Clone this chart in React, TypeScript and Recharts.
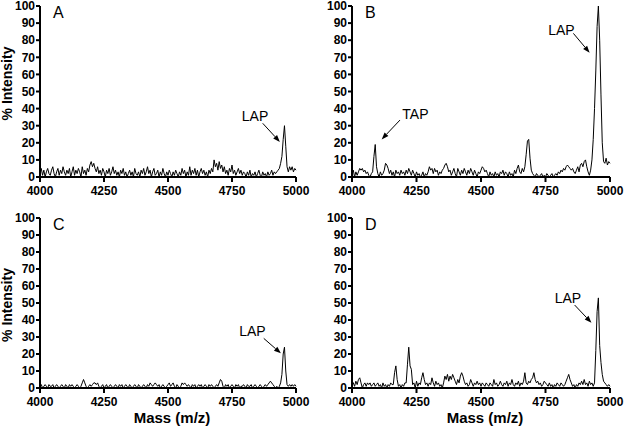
import { Label, Line, LineChart, ReferenceDot, ReferenceLine, XAxis, YAxis } from "recharts";

// spectra sampled every 5 m/z from 4000 to 5000 (201 points per panel)
const MASS_START = 4000;
const MASS_STEP = 5;
const MASS_TICKS = [4000, 4250, 4500, 4750, 5000];
const INTENSITY_TICKS = [0, 10, 20, 30, 40, 50, 60, 70, 80, 90, 100];

const spectrumA = [
  2, 5, 1, 4, 0, 3, 5, 2, 1, 4, 6, 2, 0, 3, 5, 1, 4, 2, 6, 3,
  1, 4, 2, 5, 0, 3, 6, 1, 4, 2, 5, 3, 0, 6, 2, 4, 1, 5, 3, 7,
  9, 6, 8, 5, 3, 6, 2, 4, 1, 5, 3, 0, 4, 2, 5, 1, 3, 6, 2, 4,
  1, 3, 0, 4, 2, 5, 1, 3, 0, 2, 4, 1, 3, 0, 5, 2, 1, 3, 0, 4,
  2, 5, 1, 3, 6, 2, 4, 0, 3, 5, 1, 2, 4, 0, 3, 1, 5, 2, 0, 3,
  1, 4, 2, 0, 3, 1, 4, 2, 0, 3, 1, 5, 2, 4, 0, 3, 1, 6, 1, 4,
  2, 5, 1, 4, 0, 3, 5, 2, 4, 1, 3, 0, 4, 2, 5, 3, 10, 6, 8, 4,
  9, 5, 7, 3, 6, 2, 4, 1, 5, 3, 7, 2, 4, 1, 3, 5, 2, 4, 1, 3,
  2, 0, 3, 1, 4, 0, 2, 1, 3, 0, 2, 4, 1, 0, 3, 1, 2, 0, 3, 1,
  2, 4, 1, 3, 2, 3, 4, 5, 8, 12, 22, 30, 18, 6, 3, 6, 4, 6, 3, 5, 4,
];

const spectrumB = [
  2, 4, 0, 3, 1, 3, 5, 4, 5, 3, 4, 2, 3, 1, 0, 2, 3, 12, 19, 6,
  2, 0, 3, 1, 2, 4, 8, 7, 5, 2, 4, 1, 3, 0, 4, 2, 3, 1, 4, 2,
  3, 1, 4, 2, 5, 3, 1, 4, 2, 0, 3, 1, 2, 0, 1, 3, 0, 2, 1, 3,
  6, 4, 5, 2, 5, 3, 4, 1, 3, 2, 4, 5, 7, 8, 6, 3, 4, 1, 3, 5,
  2, 0, 5, 3, 1, 4, 2, 5, 3, 1, 4, 2, 5, 3, 1, 4, 2, 0, 3, 2,
  4, 6, 5, 3, 4, 2, 0, 3, 1, 2, 0, 3, 1, 2, 0, 3, 2, 4, 1, 3,
  2, 0, 3, 1, 2, 0, 4, 2, 5, 7, 3, 2, 5, 3, 6, 13, 21, 22, 11, 4,
  2, 1, 0, 2, 1, 0, 1, 2, 0, 1, 0, 2, 1, 0, 1, 2, 0, 1, 2, 1,
  3, 2, 4, 3, 5, 4, 6, 7, 6, 5, 4, 5, 3, 2, 4, 6, 3, 7, 8, 6,
  9, 10, 6, 3, 1, 4, 10, 22, 40, 62, 88, 100, 80, 48, 20, 9, 8, 11, 7, 9, 8,
];

const spectrumC = [
  1, 2, 0, 1, 2, 1, 0, 2, 1, 1, 2, 0, 1, 2, 1, 0, 1, 2, 1, 0,
  2, 1, 0, 2, 1, 2, 1, 0, 1, 2, 1, 0, 1, 3, 5, 3, 1, 0, 1, 2,
  1, 2, 3, 3, 2, 3, 1, 0, 1, 2, 0, 1, 2, 0, 1, 2, 1, 0, 1, 2,
  1, 0, 2, 1, 2, 0, 1, 2, 1, 0, 2, 1, 0, 1, 2, 1, 0, 2, 1, 0,
  1, 2, 1, 0, 2, 1, 3, 2, 1, 2, 3, 2, 1, 2, 0, 1, 2, 1, 0, 1,
  2, 3, 1, 2, 3, 1, 0, 2, 1, 0, 1, 3, 2, 3, 2, 1, 2, 1, 0, 2,
  1, 2, 0, 1, 2, 1, 2, 0, 1, 2, 1, 0, 2, 1, 2, 1, 0, 1, 2, 1,
  3, 5, 4, 1, 0, 2, 1, 2, 0, 1, 2, 1, 0, 2, 1, 2, 0, 1, 1, 2,
  1, 0, 2, 1, 1, 2, 0, 1, 2, 1, 0, 1, 2, 1, 0, 1, 2, 1, 2, 3,
  4, 3, 2, 1, 0, 1, 0, 1, 3, 8, 20, 24, 10, 2, 1, 2, 1, 2, 1, 2, 1,
];

const spectrumD = [
  4, 3, 1, 4, 2, 5, 6, 3, 0, 2, 3, 1, 3, 2, 3, 1, 2, 3, 1, 2,
  3, 1, 2, 0, 3, 1, 2, 0, 2, 1, 3, 2, 2, 9, 13, 5, 1, 2, 0, 2,
  1, 3, 3, 14, 24, 13, 11, 2, 3, 0, 4, 1, 3, 2, 6, 9, 5, 2, 3, 1,
  3, 2, 6, 3, 1, 4, 2, 3, 1, 2, 0, 3, 7, 5, 8, 4, 7, 5, 8, 6,
  4, 2, 5, 3, 7, 9, 7, 4, 2, 3, 1, 2, 5, 3, 1, 3, 2, 4, 2, 3,
  1, 3, 2, 1, 3, 2, 1, 3, 2, 1, 5, 2, 3, 1, 2, 4, 2, 1, 3, 2,
  4, 1, 3, 2, 5, 2, 1, 3, 2, 4, 1, 3, 2, 4, 9, 3, 2, 4, 3, 5,
  6, 9, 5, 3, 4, 2, 3, 1, 2, 4, 3, 2, 1, 3, 1, 2, 0, 2, 1, 3,
  2, 1, 3, 2, 1, 2, 4, 6, 8, 5, 3, 1, 2, 0, 2, 1, 3, 2, 4, 2,
  5, 2, 3, 1, 4, 2, 3, 1, 3, 22, 45, 53, 25, 15, 8, 4, 3, 2, 1, 2, 1,
];

// peak labels, in data units: text centre, then arrow tail -> arrow tip
type Note = { text: string; tx: number; ty: number; x1: number; y1: number; x2: number; y2: number };
const notesA: Note[] = [{ text: "LAP", tx: 4840, ty: 35.8, x1: 4870, y1: 31.4, x2: 4937, y2: 20.5 }];
const notesB: Note[] = [
  { text: "TAP", tx: 4246, ty: 36.8, x1: 4186, y1: 33.3, x2: 4115, y2: 22 },
  { text: "LAP", tx: 4812, ty: 86, x1: 4858, y1: 84, x2: 4921, y2: 72.7 },
];
const notesC: Note[] = [{ text: "LAP", tx: 4830, ty: 33.5, x1: 4874, y1: 29.2, x2: 4941, y2: 20.4 }];
const notesD: Note[] = [{ text: "LAP", tx: 4837, ty: 53, x1: 4863, y1: 48.8, x2: 4928, y2: 38.4 }];

const FONT = "'Liberation Sans', Arial, Helvetica, sans-serif";

function toRows(values: number[]) {
  return values.map((v, i) => ({ mass: MASS_START + i * MASS_STEP, v }));
}

const Arrow = (props: any) => {
  const { x1, y1, x2, y2 } = props;
  const a = Math.atan2(y2 - y1, x2 - x1);
  const len = 7;
  const half = 2.6;
  const bx = x2 - len * Math.cos(a);
  const by = y2 - len * Math.sin(a);
  const px = -Math.sin(a) * half;
  const py = Math.cos(a) * half;
  return (
    <g>
      <line x1={x1} y1={y1} x2={bx} y2={by} stroke="#000" strokeWidth={1} />
      <polygon points={`${x2},${y2} ${bx + px},${by + py} ${bx - px},${by - py}`} fill="#000" />
    </g>
  );
};

function Panel({
  values,
  notes,
  letter,
  left,
  top,
  height,
  marginTop,
  marginRight,
  xAxisHeight,
  yLabel,
  xLabel,
  yLabelShift,
}: {
  values: number[];
  notes: Note[];
  letter: string;
  left: number;
  top: number;
  height: number;
  marginTop: number;
  marginRight: number;
  xAxisHeight: number;
  yLabel: boolean;
  xLabel: boolean;
  yLabelShift: number;
}) {
  const rows = toRows(values);
  return (
    <div style={{ position: "absolute", left, top, width: 312, height }}>
      <LineChart width={312} height={height} data={rows} margin={{ top: marginTop, right: marginRight, bottom: 0, left: 0 }}>
        <XAxis
          type="number"
          dataKey="mass"
          domain={[4000, 5000]}
          ticks={MASS_TICKS}
          height={xAxisHeight}
          tickSize={5}
          tickMargin={4}
          axisLine={{ stroke: "#000", strokeWidth: 2 }}
          tickLine={{ stroke: "#000", strokeWidth: 2 }}
          tick={{ fill: "#000", fontSize: 12, fontWeight: "bold" }}
        >
          {xLabel && (
            <Label
              content={(p: any) => {
                const vb = p.viewBox;
                return (
                  <text x={vb.x + vb.width / 2 + 4} y={vb.y + vb.height - 4} textAnchor="middle" fontSize={15} fontWeight="bold" fill="#000">
                    Mass (m/z)
                  </text>
                );
              }}
            />
          )}
        </XAxis>
        <YAxis
          type="number"
          domain={[0, 100]}
          ticks={INTENSITY_TICKS}
          width={40}
          tickSize={4}
          tickMargin={1}
          interval={0}
          axisLine={{ stroke: "#000", strokeWidth: 2 }}
          tickLine={{ stroke: "#000", strokeWidth: 2 }}
          tick={{ fill: "#000", fontSize: 12, fontWeight: "bold" }}
        >
          {yLabel && (
            <Label
              content={(p: any) => {
                const vb = p.viewBox;
                const cx = 7;
                const cy = vb.y + vb.height / 2 + yLabelShift;
                return (
                  <text
                    x={cx}
                    y={cy}
                    transform={`rotate(-90 ${cx} ${cy})`}
                    textAnchor="middle"
                    dominantBaseline="central"
                    fontSize={14}
                    fontWeight="bold"
                    fill="#000"
                  >
                    % Intensity
                  </text>
                );
              }}
            />
          )}
        </YAxis>
        <Line type="linear" dataKey="v" stroke="#000" strokeWidth={1} dot={false} isAnimationActive={false} />
        {notes.map((n, i) => (
          <ReferenceLine
            key={`a${i}`}
            segment={[
              { x: n.x1, y: n.y1 },
              { x: n.x2, y: n.y2 },
            ]}
            ifOverflow="visible"
            shape={Arrow}
          />
        ))}
        {notes.map((n, i) => (
          <ReferenceDot
            key={`t${i}`}
            x={n.tx}
            y={n.ty}
            r={0}
            fill="none"
            stroke="none"
            ifOverflow="visible"
            label={{ value: n.text, position: "center", fontSize: 14, fill: "#000" }}
          />
        ))}
      </LineChart>
      <div
        style={{
          position: "absolute",
          left: 53,
          top: marginTop - 1,
          fontSize: 16,
          lineHeight: "16px",
          color: "#000",
        }}
      >
        {letter}
      </div>
    </div>
  );
}

export default function App() {
  return (
    <div
      style={{
        position: "absolute",
        left: 0,
        top: 0,
        width: 624,
        height: 427,
        background: "#fff",
        fontFamily: FONT,
        overflow: "hidden",
      }}
    >
      <Panel values={spectrumA} notes={notesA} letter="A" left={0} top={0} height={210} marginTop={6} marginRight={16} xAxisHeight={33} yLabel xLabel={false} yLabelShift={-8} />
      <Panel values={spectrumB} notes={notesB} letter="B" left={312} top={0} height={210} marginTop={6} marginRight={14} xAxisHeight={33} yLabel={false} xLabel={false} yLabelShift={0} />
      <Panel values={spectrumC} notes={notesC} letter="C" left={0} top={210} height={217} marginTop={8} marginRight={16} xAxisHeight={39} yLabel xLabel yLabelShift={2} />
      <Panel values={spectrumD} notes={notesD} letter="D" left={312} top={210} height={217} marginTop={8} marginRight={14} xAxisHeight={39} yLabel={false} xLabel yLabelShift={0} />
    </div>
  );
}
